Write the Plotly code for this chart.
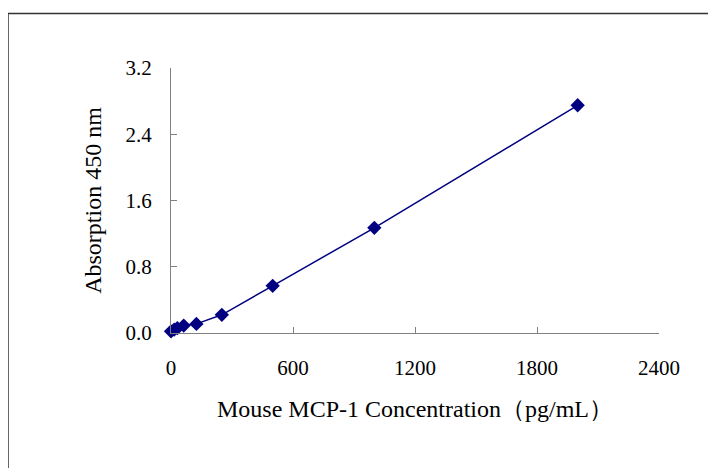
import plotly.graph_objects as go

concentration = [0, 15.6, 31.25, 62.5, 125, 250, 500, 1000, 2000]
absorbance = [0.02, 0.04, 0.06, 0.09, 0.11, 0.22, 0.57, 1.27, 2.75]
x_ticks = [0, 600, 1200, 1800, 2400]
y_ticks = [0.0, 0.8, 1.6, 2.4, 3.2]

# page has an 8px body margin, so figure coords = page coords - 8;
# figure sized so that it fits the 716x468 window without scrollbars
OFF = 8
W, H = 716 - OFF, 468 - OFF
L, T = 171 - OFF, 68 - OFF
pw, ph = 488, 265
R = W - L - pw
B = H - T - ph

family = "Liberation Serif, Times New Roman, serif"
font = dict(family=family, size=21, color="#000000")
title_font = dict(family=family, size=24, color="#000000")

fig = go.Figure()
fig.add_trace(go.Scatter(
    x=concentration, y=absorbance, mode="lines+markers",
    line=dict(color="#000080", width=1.5),
    marker=dict(symbol="diamond", size=11, color="#000080"),
    cliponaxis=False, showlegend=False,
))

fig.update_layout(
    width=W, height=H,
    margin=dict(l=L, r=R, t=T, b=B),
    paper_bgcolor="white", plot_bgcolor="white",
    font=font,
    xaxis=dict(
        range=[0, 2400], tickvals=x_ticks, ticktext=[str(v) for v in x_ticks],
        showgrid=False, zeroline=False, showline=True, linecolor="#808080", linewidth=1,
        ticks="inside", ticklen=6, tickcolor="#808080", tickwidth=1,
        ticklabelstandoff=16,
        title=dict(text="Mouse MCP-1 Concentration（pg/mL）", font=title_font, standoff=20),
    ),
    yaxis=dict(
        range=[0, 3.2], tickvals=y_ticks, ticktext=[f"{v:.1f}" for v in y_ticks],
        showgrid=False, zeroline=False, showline=True, linecolor="#808080", linewidth=1,
        ticks="inside", ticklen=6, tickcolor="#808080", tickwidth=1,
        ticklabelstandoff=14,
        title=dict(text="Absorption 450 nm", font=title_font, standoff=17),
    ),
)

# outer frame: only its top and left edges fall inside the image
x0 = (8 - OFF - L) / pw
x_end = (W - L) / pw
y1 = (333 - 13.5) / ph
y_end = -B / ph
frame = dict(color="#333333", width=1.5)
fig.add_shape(type="line", xref="paper", yref="paper",
              x0=x0, x1=x_end, y0=y1, y1=y1, line=frame, layer="below")
fig.add_shape(type="line", xref="paper", yref="paper",
              x0=x0, x1=x0, y0=y_end, y1=y1, line=frame, layer="below")

fig.write_html("out.html", config={"displayModeBar": False})
